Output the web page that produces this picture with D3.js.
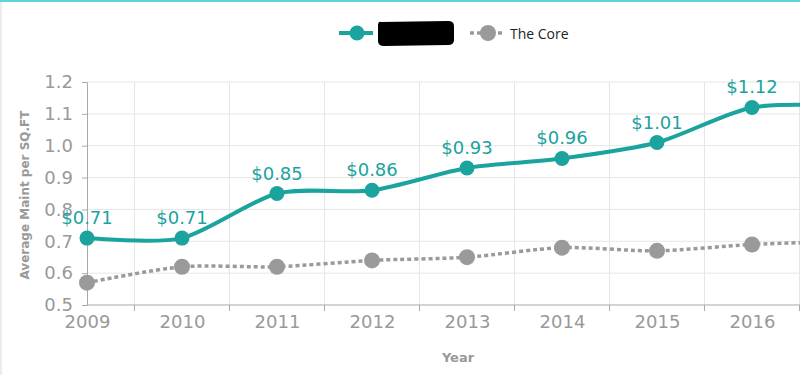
<!doctype html>
<html lang="en">
    <head>
        <meta charset="utf-8">
        <title>Average Maint per SQ.FT</title>
        <script type="text/javascript" src="https://cdn.jsdelivr.net/npm/d3@7"></script>
        <style>
            body { margin: 0; background: #fff; }
            svg { display: block; font-family: "DejaVu Sans", Verdana, sans-serif; }
        </style>
    </head>
    <body>
        <script type="text/javascript">

            var years = ["2009", "2010", "2011", "2012", "2013", "2014", "2015", "2016", "2017"];
            var ownValues = [0.71, 0.71, 0.85, 0.86, 0.93, 0.96, 1.01, 1.12, 1.125];
            var coreValues = [0.57, 0.62, 0.62, 0.64, 0.65, 0.68, 0.67, 0.69, 0.70];
            var yTicks = [0.5, 0.6, 0.7, 0.8, 0.9, 1.0, 1.1, 1.2];
            var coreName = "The Core";

            var svgW = 800;
            var svgH = 375;
            var teal = "#1ba39e";
            var grey = "#9a9a9a";

            var svg = d3.select("body")
                        .append("svg")
                        .attr("width", svgW)
                        .attr("height", svgH);

            // frame bits
            svg.append("rect").attr("x", 0).attr("y", 0).attr("width", svgW).attr("height", 2).attr("fill", "#5fd6d6");
            svg.append("rect").attr("x", 0).attr("y", 2).attr("width", 2).attr("height", svgH).attr("fill", "#ececec");

            var x = d3.scalePoint()
                      .domain(years)
                      .range([87, 87 + 95 * (years.length - 1)]);
            var step = x.step();
            // the chart runs past the right edge, so the last year is only partly seen
            var visible = d => x(d) < svgW;

            var y = d3.scaleLinear()
                      .domain([0.5, 1.2])
                      .range([305, 82]);

            // grid
            svg.append("g")
               .selectAll("line")
               .data(yTicks.slice(1))
               .enter()
               .append("line")
               .attr("x1", 87).attr("x2", svgW)
               .attr("y1", d => y(d)).attr("y2", d => y(d))
               .attr("stroke", "#e6e6e6");

            svg.append("g")
               .selectAll("line")
               .data(years.filter(visible))
               .enter()
               .append("line")
               .attr("x1", d => x(d) + step / 2).attr("x2", d => x(d) + step / 2)
               .attr("y1", y(1.2)).attr("y2", 311)
               .attr("stroke", "#e6e6e6");

            // x ticks below axis
            svg.append("g")
               .selectAll("line")
               .data(years.filter(visible))
               .enter()
               .append("line")
               .attr("x1", d => x(d) + step / 2).attr("x2", d => x(d) + step / 2)
               .attr("y1", 305).attr("y2", 311)
               .attr("stroke", "#aaa");

            // axes
            var yAxis = svg.append("g")
                           .attr("transform", "translate(87,0)")
                           .call(d3.axisLeft(y).tickValues(yTicks).tickFormat(d3.format(".1f")).tickSize(5).tickPadding(9));
            var xAxis = svg.append("g")
                           .attr("transform", "translate(0,305)")
                           .call(d3.axisBottom(x).tickValues(years.filter(visible)).tickSize(0).tickPadding(10));

            [xAxis, yAxis].forEach(a => {
                a.select(".domain").attr("stroke", "#aaa");
                a.selectAll(".tick line").attr("stroke", "#aaa");
                a.selectAll("text")
                 .attr("fill", "#999")
                 .style("font-family", "'DejaVu Sans', Verdana, sans-serif")
                 .style("font-size", "18px");
            });
            xAxis.select(".domain").attr("d", "M87,0H" + svgW);

            svg.append("text")
               .attr("x", 458).attr("y", 362)
               .attr("text-anchor", "middle")
               .attr("fill", "#999")
               .style("font-size", "13px").style("font-weight", "bold")
               .text("Year");

            svg.append("text")
               .attr("transform", "translate(29,195) rotate(-90)")
               .attr("text-anchor", "middle")
               .attr("fill", "#999")
               .style("font-size", "12px").style("font-weight", "bold")
               .text("Average Maint per SQ.FT");

            // lines
            var line = d3.line()
                         .x((d, i) => x(years[i]))
                         .y(d => y(d))
                         .curve(d3.curveCardinal.tension(0.2));

            svg.append("path")
               .attr("d", line(coreValues))
               .attr("fill", "none")
               .attr("stroke", grey)
               .attr("stroke-width", 3.5)
               .attr("stroke-dasharray", "4,3");

            svg.append("path")
               .attr("d", line(ownValues))
               .attr("fill", "none")
               .attr("stroke", teal)
               .attr("stroke-width", 4);

            svg.append("g")
               .selectAll("circle")
               .data(coreValues)
               .enter()
               .append("circle")
               .attr("cx", (d, i) => x(years[i]))
               .attr("cy", d => y(d))
               .attr("r", 8)
               .attr("fill", grey);

            svg.append("g")
               .selectAll("circle")
               .data(ownValues)
               .enter()
               .append("circle")
               .attr("cx", (d, i) => x(years[i]))
               .attr("cy", d => y(d))
               .attr("r", 7.5)
               .attr("fill", teal);

            svg.append("g")
               .selectAll("text")
               .data(ownValues.filter((d, i) => visible(years[i])))
               .enter()
               .append("text")
               .attr("x", (d, i) => x(years[i]))
               .attr("y", d => y(d) - 14)
               .attr("text-anchor", "middle")
               .attr("fill", teal)
               .style("font-size", "18px")
               .text(d => "$" + d3.format(".2f")(d));

            // legend
            var legend = svg.append("g");
            legend.append("line")
                  .attr("x1", 339).attr("x2", 373).attr("y1", 33).attr("y2", 33)
                  .attr("stroke", teal).attr("stroke-width", 4);
            legend.append("circle")
                  .attr("cx", 357).attr("cy", 33).attr("r", 7.5)
                  .attr("fill", teal);
            // redacted label
            legend.append("path")
                  .attr("d", "M381,22 Q378,21 378,26 L378,41 Q378,46 384,46 L448,45 Q454,45 454,40 L454,26 Q454,21 448,21 Z")
                  .attr("fill", "#000");
            legend.append("line")
                  .attr("x1", 470).attr("x2", 504).attr("y1", 33).attr("y2", 33)
                  .attr("stroke", grey).attr("stroke-width", 3.5)
                  .attr("stroke-dasharray", "4,3");
            legend.append("circle")
                  .attr("cx", 488).attr("cy", 33).attr("r", 8)
                  .attr("fill", grey);
            legend.append("text")
                  .attr("x", 510).attr("y", 39)
                  .attr("fill", "#222")
                  .style("font-family", "'Open Sans', 'Segoe UI', sans-serif")
                  .style("font-size", "14px")
                  .text(coreName);
        </script>
    </body>
</html>
